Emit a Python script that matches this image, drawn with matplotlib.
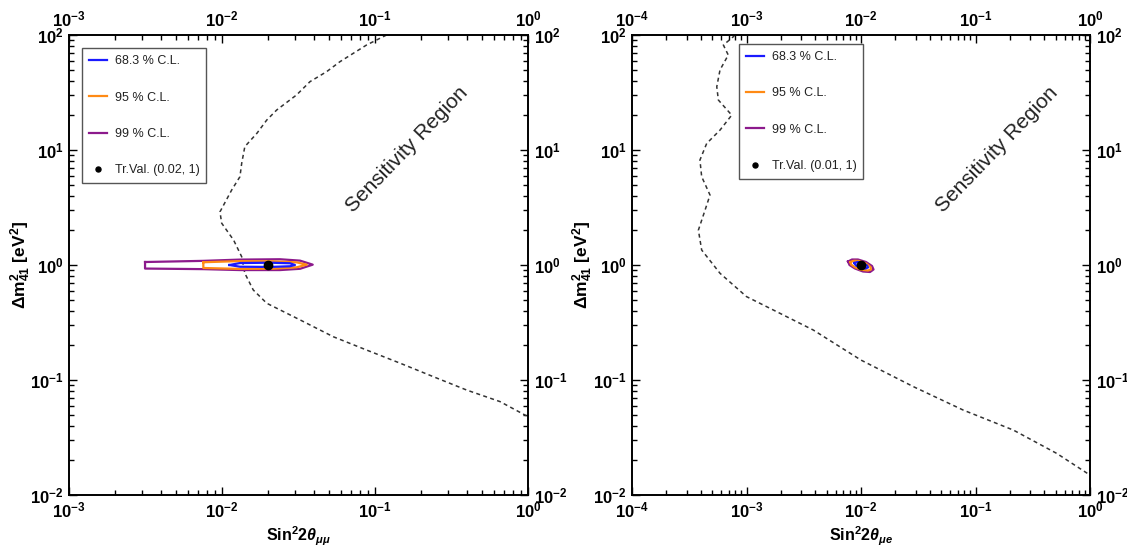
import numpy as np
import matplotlib
matplotlib.use('Agg')
import matplotlib.pyplot as plt
from matplotlib.ticker import FixedLocator, FuncFormatter, NullLocator

plt.rcParams['font.family'] = ['Liberation Sans', 'DejaVu Sans']
plt.rcParams['mathtext.fontset'] = 'custom'
plt.rcParams['mathtext.rm'] = 'Liberation Sans'
plt.rcParams['mathtext.bf'] = 'Liberation Sans:bold'
plt.rcParams['mathtext.it'] = 'Liberation Sans:italic'
plt.rcParams['mathtext.bfit'] = 'Liberation Sans:italic:bold'

# ---------------- data ----------------
# Left panel: sensitivity curve (sin^2 2theta_mumu, dm41^2)
left_sens_x = [0.119, 0.088, 0.059, 0.0483, 0.0376, 0.0307, 0.0228, 0.0196, 0.0169,
               0.0141, 0.01345, 0.0131, 0.01157, 0.0097, 0.00995, 0.0119, 0.01345,
               0.0141, 0.016, 0.0196, 0.0324, 0.0533, 0.0883, 0.146, 0.240, 0.397,
               0.656, 1.0]
left_sens_y = [100, 81.8, 58.6, 48.0, 39.3, 30.1, 22.3, 18.2, 13.96, 10.7, 7.66, 5.86,
               4.49, 2.90, 2.31, 1.65, 1.18, 0.847, 0.607, 0.465, 0.333, 0.238, 0.182,
               0.140, 0.107, 0.0818, 0.0649, 0.048]

# Left panel contours (log10 of x, log10 of y)
left_c99_logx = [-2.503, -2.122, -1.882, -1.621, -1.490, -1.407, -1.490, -1.621, -1.882, -2.122, -2.503, -2.503]
left_c99_logy = [0.026, 0.036, 0.047, 0.050, 0.038, 0.003, -0.033, -0.044, -0.044, -0.036, -0.031, 0.026]
left_c95_logx = [-2.122, -1.882, -1.665, -1.512, -1.446, -1.512, -1.665, -1.882, -2.122, -2.122]
left_c95_logy = [0.024, 0.034, 0.032, 0.023, 0.003, -0.020, -0.032, -0.034, -0.026, 0.024]
left_c68_logx = [-1.952, -1.882, -1.686, -1.556, -1.523, -1.556, -1.686, -1.882, -1.952]
left_c68_logy = [0.0, 0.017, 0.020, 0.015, 0.0, -0.011, -0.017, -0.015, 0.0]
left_true = (0.02, 1.0)

# Right panel: sensitivity curve (sin^2 2theta_mue, dm41^2)
right_sens_x = [7.9e-4, 7.67e-4, 6.28e-4, 6.93e-4, 5.87e-4, 5.5e-4, 5.68e-4, 7.43e-4, 5.87e-4,
                4.49e-4, 3.92e-4, 4.06e-4, 4.8e-4, 4.35e-4, 3.8e-4, 4.06e-4, 5.87e-4,
                1.0e-3, 1.96e-3, 3.83e-3, 0.01, 0.0287, 0.078, 0.214, 0.512, 1.0]
right_sens_y = [100, 96.6, 81.8, 67.0, 49.7, 35.5, 27.2, 20.1, 14.9, 11.4, 8.18, 5.86, 4.06,
                3.01, 2.01, 1.35, 0.847, 0.531, 0.380, 0.272, 0.149, 0.0875, 0.0548,
                0.0367, 0.0230, 0.0149]

right_c99_logx = [-2.1135, -2.0786, -2.0262, -1.9563, -1.9039, -1.8908, -1.9214, -1.9825, -2.0524, -2.1004, -2.1135]
right_c99_logy = [0.0304, 0.0478, 0.0478, 0.0261, -0.0087, -0.0391, -0.0609, -0.0565, -0.0304, 0.0, 0.0304]
right_c95_logx = [-2.0917, -2.0611, -2.0175, -1.9563, -1.9170, -1.9127, -1.9389, -1.9996, -2.0524, -2.0873, -2.0917]
right_c95_logy = [0.0261, 0.0365, 0.0348, 0.013, -0.0174, -0.0391, -0.0478, -0.0417, -0.020, 0.0043, 0.0261]
right_c68_logx = [-2.0568, -2.0306, -1.9869, -1.9476, -1.9389, -1.9607, -2.0044, -2.0437, -2.0568]
right_c68_logy = [0.0174, 0.0261, 0.0174, -0.0043, -0.0217, -0.0304, -0.0217, -0.0043, 0.0174]
right_true = (0.01, 1.0)

cl_labels = ['68.3 % C.L.', '95 % C.L.', '99 % C.L.']
cl_colors = ['#1a1aff', '#ff8a14', '#8c1a8c']

# ---------------- figure ----------------
fig = plt.figure(figsize=(11.27, 5.5), dpi=100)
axL = fig.add_axes([69/1127, 55/550, 459/1127, 460/550])
axR = fig.add_axes([632/1127, 55/550, 458/1127, 460/550])


def is_decade(v):
    e = np.log10(v)
    return abs(e - round(e)) < 1e-6


def fmt(v, pos):
    if not is_decade(v):
        return ''
    e = int(round(np.log10(v)))
    if e < 0:
        return r'$\mathbf{10^{-%d}}$' % (-e)
    return r'$\mathbf{10^{%d}}$' % e


# decade ticks plus the 2..9 subdivisions, all on one locator
tick_locs = sorted([k * 10.0 ** e for e in range(-5, 3) for k in range(1, 10)])


def draw(ax, sx, sy, cont, true, true_label, leg_anchor, txt_pos, xlab):
    ax.plot(sx, sy, color='#333333', lw=1.1, dashes=(2.6, 2.2))
    handles = []
    for (lx, ly), lab, col in zip(cont, cl_labels, cl_colors):
        h, = ax.plot(10 ** np.array(lx), 10 ** np.array(ly), color=col, lw=1.6,
                     solid_joinstyle='round', label=lab)
        handles.append(h)
    handles[0].set_zorder(4); handles[1].set_zorder(3.5); handles[2].set_zorder(3)
    hd, = ax.plot([true[0]], [true[1]], 'o', color='black', ms=6, zorder=5,
                  label=true_label)
    leg = ax.legend(handles=handles + [hd], loc='upper left', bbox_to_anchor=leg_anchor,
                    borderaxespad=0, fontsize=9, labelspacing=1.95, handlelength=1.4,
                    handletextpad=0.65, borderpad=0.55, fancybox=False, framealpha=1,
                    edgecolor='#555555', markerscale=0.6)
    leg.get_frame().set_linewidth(1.0)
    for t in leg.get_texts():
        t.set_color('#222222')
    ax.text(txt_pos[0], txt_pos[1], 'Sensitivity Region', transform=ax.transAxes,
            rotation=46, fontsize=15, color='#222222', ha='center', va='center',
            rotation_mode='anchor')
    ax.set_xlabel(xlab, fontsize=11.5, labelpad=3)


def style(ax, xlim, ylab_x):
    ax.set_xscale('log')
    ax.set_yscale('log')
    ax.set_xlim(*xlim)
    ax.set_ylim(1e-2, 1e2)
    for a in (ax.xaxis, ax.yaxis):
        a.set_major_locator(FixedLocator(tick_locs))
        a.set_major_formatter(FuncFormatter(fmt))
        a.set_minor_locator(NullLocator())
    ax.tick_params(which='both', direction='in', top=True, right=True,
                   labeltop=True, labelright=True, labelsize=12, width=1.0, colors='black')
    ax.tick_params(which='major', length=6, pad=4)
    for s in ax.spines.values():
        s.set_linewidth(1.4)
    ax.set_ylabel(r'$\mathbf{\Delta m_{41}^{2}\ [eV^{2}]}$', fontsize=12.5)
    ax.yaxis.set_label_coords(ylab_x, 0.5)
    # shorter marks for the subdivision ticks
    for a in (ax.xaxis, ax.yaxis):
        ticks = a.get_major_ticks(len(tick_locs))
        for tick, loc in zip(ticks, tick_locs):
            if not is_decade(loc):
                tick.tick1line.set_markersize(3.5)
                tick.tick2line.set_markersize(3.5)


draw(axL, left_sens_x, left_sens_y,
     [(left_c68_logx, left_c68_logy), (left_c95_logx, left_c95_logy), (left_c99_logx, left_c99_logy)],
     left_true, 'Tr.Val. (0.02, 1)', (0.029, 0.971), (0.736, 0.752),
     r'$\mathbf{Sin^{2}2}\mathbfit{\theta_{\mu\mu}}$')
draw(axR, right_sens_x, right_sens_y,
     [(right_c68_logx, right_c68_logy), (right_c95_logx, right_c95_logy), (right_c99_logx, right_c99_logy)],
     right_true, 'Tr.Val. (0.01, 1)', (0.234, 0.980), (0.798, 0.752),
     r'$\mathbf{Sin^{2}2}\mathbfit{\theta_{\mu e}}$')

style(axL, (1e-3, 1), -0.079)
style(axR, (1e-4, 1), -0.080)

fig.savefig('out.png', dpi=100)
